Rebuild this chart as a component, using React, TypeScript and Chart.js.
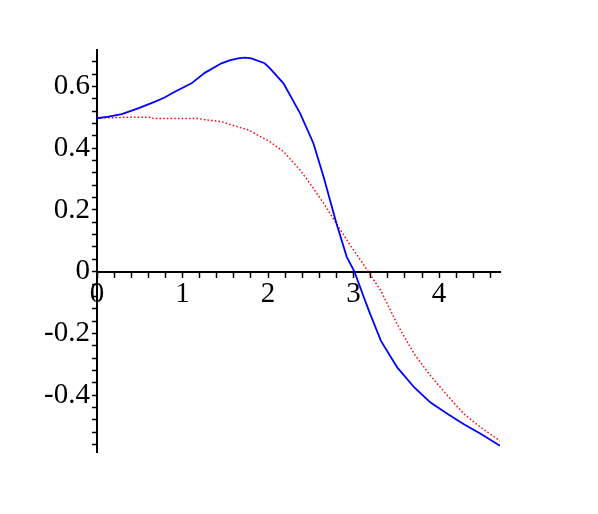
import React, { useEffect, useRef } from "react";
import { Chart, registerables } from "chart.js";

Chart.register(...registerables);

const blueX = [0, 0.135, 0.29, 0.48, 0.68, 0.79, 0.91, 1.105, 1.26, 1.455, 1.56, 1.65, 1.73, 1.805, 1.96, 2.02, 2.18, 2.375, 2.53, 2.65, 2.8, 2.92, 3.01, 3.12, 3.19, 3.32, 3.51, 3.71, 3.9, 4.1, 4.29, 4.49, 4.712];
const blueY = [0.497, 0.502, 0.51, 0.529, 0.551, 0.564, 0.583, 0.61, 0.644, 0.675, 0.685, 0.691, 0.693, 0.691, 0.675, 0.659, 0.61, 0.513, 0.416, 0.307, 0.156, 0.048, 0.0, -0.083, -0.134, -0.224, -0.31, -0.375, -0.424, -0.461, -0.494, -0.526, -0.564];

const redX = [0, 0.3, 0.64, 0.66, 1.18, 1.3, 1.455, 1.61, 1.77, 2.02, 2.18, 2.375, 2.53, 2.65, 2.8, 2.96, 3.115, 3.19, 3.32, 3.51, 3.71, 3.9, 4.1, 4.29, 4.49, 4.712];
const redY = [0.497, 0.5, 0.5, 0.496, 0.496, 0.491, 0.486, 0.472, 0.459, 0.421, 0.389, 0.329, 0.27, 0.221, 0.156, 0.086, 0.024, -0.008, -0.062, -0.17, -0.267, -0.337, -0.402, -0.461, -0.505, -0.548];

const xTickLabels = [0, 1, 2, 3, 4];
const yTickLabels = [-0.4, -0.2, 0, 0.2, 0.4, 0.6];

const labelFor = (list: number[], v: number) => {
  const m = list.find((t) => Math.abs(t - v) < 1e-6);
  return m === undefined ? "" : String(m);
};

export default function App() {
  const ref = useRef<HTMLCanvasElement>(null);
  useEffect(() => {
    const font = { family: "'Liberation Serif', 'Times New Roman', serif", size: 29 };
    const chart = new Chart(ref.current!, {
      type: "line",
      data: {
        datasets: [
          {
            data: blueX.map((x, i) => ({ x, y: blueY[i] })),
            borderColor: "#0000ff",
            borderWidth: 1.8,
            pointRadius: 0,
            tension: 0,
            fill: false,
          },
          {
            data: redX.map((x, i) => ({ x, y: redY[i] })),
            borderColor: "#ff0000",
            borderWidth: 1.5,
            borderDash: [1.5, 2.2],
            pointRadius: 0,
            tension: 0,
            fill: false,
          },
        ],
      },
      options: {
        animation: false,
        responsive: false,
        layout: { padding: { left: 0, right: 98, top: 50, bottom: 62 } },
        plugins: { legend: { display: false }, tooltip: { enabled: false } },
        scales: {
          x: {
            type: "linear",
            position: { y: 0 } as any,
            min: 0,
            max: 4.712,
            grid: { drawOnChartArea: false, drawTicks: true, tickLength: 5, tickColor: "#000", tickWidth: 1.5 },
            border: { color: "#000", width: 2 },
            ticks: {
              stepSize: 0.2,
              autoSkip: false,
              maxRotation: 0,
              minRotation: 0,
              includeBounds: false,
              color: "#000",
              font,
              padding: 0,
              callback: (v: any) => labelFor(xTickLabels, Number(v)),
            },
          },
          y: {
            type: "linear",
            position: "left",
            min: -0.584,
            max: 0.718,
            afterFit: (scale: any) => {
              scale.width = 97;
              scale.paddingTop = 0;
              scale.paddingBottom = 0;
            },
            grid: { drawOnChartArea: false, drawTicks: true, tickLength: 5, tickColor: "#000", tickWidth: 1.5 },
            border: { color: "#000", width: 2 },
            ticks: {
              stepSize: 0.04,
              autoSkip: false,
              includeBounds: false,
              color: "#000",
              font,
              padding: 2,
              callback: (v: any) => labelFor(yTickLabels, Number(v)),
            },
          },
        },
      },
    });
    return () => chart.destroy();
  }, []);
  return (
    <div style={{ position: "fixed", left: 0, top: 0, width: 598, height: 514, background: "#fff" }}>
      <canvas ref={ref} width={598} height={514} style={{ display: "block" }} />
    </div>
  );
}
